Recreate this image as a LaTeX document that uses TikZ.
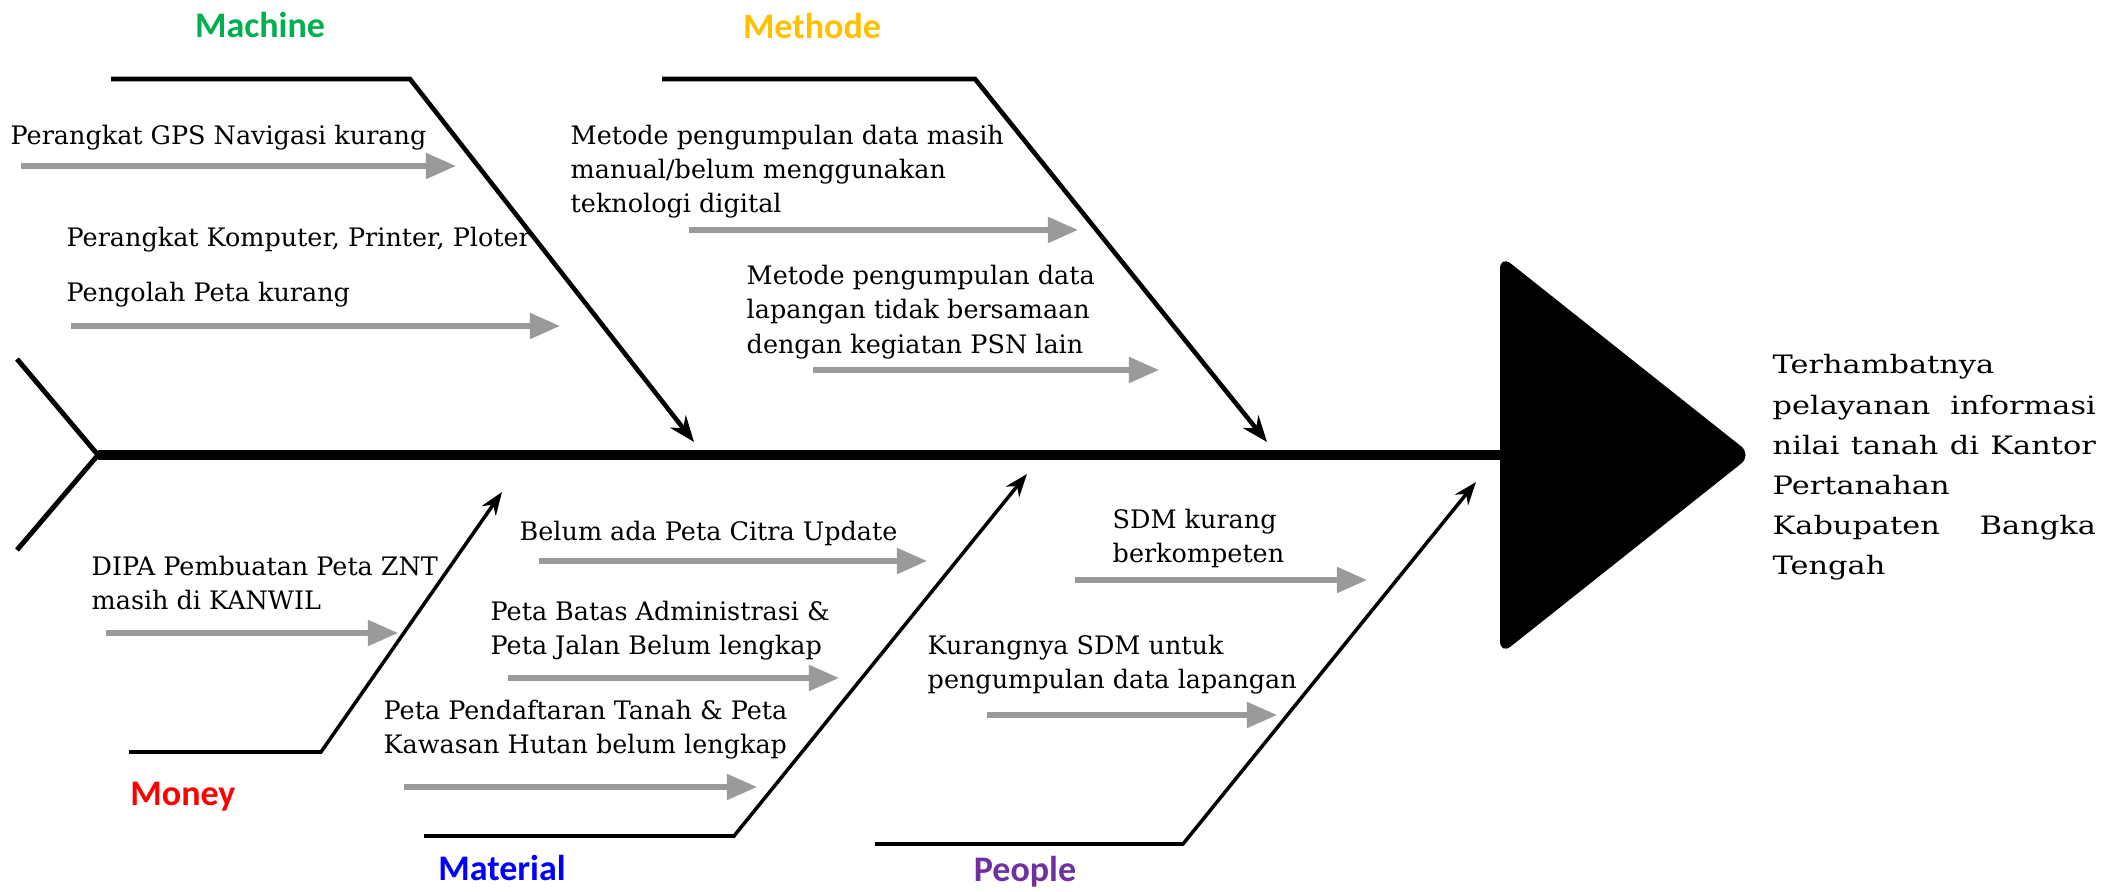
\documentclass[tikz,border=0pt]{standalone}
\usepackage{fontspec}
\setmainfont{DejaVu Serif}
\newfontfamily\catfont{Carlito}
\newfontfamily\effectfont{DejaVu Serif}[FakeStretch=1.2]
\usetikzlibrary{arrows.meta}

\definecolor{machinegreen}{HTML}{00B050}
\definecolor{methodeyellow}{HTML}{FFC000}
\definecolor{moneyred}{HTML}{FF0000}
\definecolor{materialblue}{HTML}{0000FF}
\definecolor{peoplepurple}{HTML}{7030A0}
\definecolor{subgray}{HTML}{9A9A9A}

% left-aligned block of lines whose baseline is the first line's baseline
\newcommand{\causelines}[1]{\begin{tabular}[t]{@{}l@{}}#1\end{tabular}}

\tikzset{
  spineline/.style={line width=2.85pt, black},
  tailline/.style={line width=1.4pt, black},
  upperbone/.style={line width=1.3pt, black, -{Stealth[length=0.26cm,width=0.2cm]}},
  lowerbone/.style={line width=1pt, black, -{Stealth[length=0.23cm,width=0.17cm]}},
  subcause/.style={line width=1.45pt, subgray, -{Triangle[length=0.3cm,width=0.25cm]}},
  causetext/.style={anchor=base west, inner sep=0pt, font=\fontsize{7.24pt}{9.67pt}\selectfont},
  category/.style={anchor=base, inner sep=0pt, font=\catfont\bfseries\fontsize{10.24pt}{12pt}\selectfont},
}

\begin{document}
\begin{tikzpicture}[x=0.01cm, y=-0.01cm]
\useasboundingbox (0,0) rectangle (2102,892);

% ---- spine, tail and head ----
\coordinate (tailtop) at (17,359);
\coordinate (tailbot) at (17,550);
\coordinate (tail) at (98,455);
\coordinate (headleft) at (1500,455);
\draw[tailline] (tailtop) -- (tail) -- (tailbot);
\draw[spineline] (tail) -- (headleft);
\fill[black, rounded corners=0.14cm]
  (1500,255) coordinate (headtop) -- (1752,455) coordinate (headtip)
  -- (1500,655) coordinate (headbot) -- cycle;

% ---- effect ----
\node[anchor=base west, inner sep=0pt,
      font=\effectfont\fontsize{7.2pt}{11.38pt}\selectfont] (effect) at (1772,374)
  {\causelines{Terhambatnya\\
   \makebox[3.23cm][s]{pelayanan informasi}\\
   \makebox[3.23cm][s]{nilai tanah di Kantor}\\
   Pertanahan\\
   \makebox[3.23cm][s]{Kabupaten Bangka}\\
   Tengah}};

% ---- main bones ----
\coordinate (mach0) at (111,79);  \coordinate (mach1) at (410,79);  \coordinate (mach2) at (694,442);
\coordinate (meth0) at (662,79);  \coordinate (meth1) at (975,79);  \coordinate (meth2) at (1267,442);
\coordinate (mon0) at (129,752);  \coordinate (mon1) at (321,752);  \coordinate (mon2) at (502,492);
\coordinate (mat0) at (424,836);  \coordinate (mat1) at (734,836);  \coordinate (mat2) at (1027,474);
\coordinate (peo0) at (875,844);  \coordinate (peo1) at (1183,844); \coordinate (peo2) at (1476,482);

\draw[upperbone] (mach0) -- (mach1) -- (mach2);
\draw[upperbone] (meth0) -- (meth1) -- (meth2);
\draw[lowerbone] (mon0) -- (mon1) -- (mon2);
\draw[lowerbone] (mat0) -- (mat1) -- (mat2);
\draw[lowerbone] (peo0) -- (peo1) -- (peo2);

% ---- category names ----
\node[category, text=machinegreen]  (machine)  at (260,38)  {Machine};
\node[category, text=methodeyellow] (methode)  at (812,39)  {Methode};
\node[category, text=moneyred]      (money)    at (183,806) {Money};
\node[category, text=materialblue]  (material) at (502,881) {Material};
\node[category, text=peoplepurple]  (people)   at (1025,882) {People};

% ---- causes ----
\node[causetext] (c1) at (10,145) {Perangkat GPS Navigasi kurang};
\node[causetext] (c2) at (66,247)
  {\causelines{Perangkat Komputer, Printer, Ploter\\[0.2cm] Pengolah Peta kurang}};
\node[causetext] (c3) at (570,145)
  {\causelines{Metode pengumpulan data masih\\ manual/belum menggunakan\\ teknologi digital}};
\node[causetext] (c4) at (746,285)
  {\causelines{Metode pengumpulan data\\ lapangan tidak bersamaan\\ dengan kegiatan PSN lain}};
\node[causetext] (c5) at (91,576)
  {\causelines{DIPA Pembuatan Peta ZNT\\ masih di KANWIL}};
\node[causetext] (c6) at (519,541) {Belum ada Peta Citra Update};
\node[causetext] (c7) at (490,621)
  {\causelines{Peta Batas Administrasi \&\\ Peta Jalan Belum lengkap}};
\node[causetext] (c8) at (383,720)
  {\causelines{Peta Pendaftaran Tanah \& Peta\\ Kawasan Hutan belum lengkap}};
\node[causetext] (c9) at (1112,529)
  {\causelines{SDM kurang\\ berkompeten}};
\node[causetext] (c10) at (927,655)
  {\causelines{Kurangnya SDM untuk\\ pengumpulan data lapangan}};

% ---- sub-cause arrows ----
\coordinate (a1s) at (21,166);   \coordinate (a1e) at (456,166);
\coordinate (a2s) at (71,326);   \coordinate (a2e) at (560,326);
\coordinate (a3s) at (689,230);  \coordinate (a3e) at (1078,230);
\coordinate (a4s) at (813,370);  \coordinate (a4e) at (1159,370);
\coordinate (a5s) at (106,633);  \coordinate (a5e) at (398,633);
\coordinate (a6s) at (539,561);  \coordinate (a6e) at (927,561);
\coordinate (a7s) at (508,678);  \coordinate (a7e) at (839,678);
\coordinate (a8s) at (404,787);  \coordinate (a8e) at (757,787);
\coordinate (a9s) at (1075,580); \coordinate (a9e) at (1367,580);
\coordinate (a10s) at (987,715); \coordinate (a10e) at (1277,715);
\foreach \k in {1,...,10} {\draw[subcause] (a\k s) -- (a\k e);}
\end{tikzpicture}
\end{document}
